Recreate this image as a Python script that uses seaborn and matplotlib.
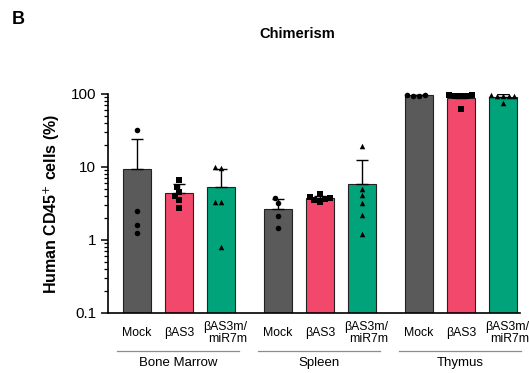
import numpy as np
import pandas as pd
import matplotlib
matplotlib.use("Agg")
import matplotlib.pyplot as plt
import matplotlib.transforms as mtransforms
from matplotlib import font_manager
import seaborn as sns

tissues = ["Bone Marrow", "Spleen", "Thymus"]
treatments = ["Mock", "βAS3", "βAS3m/\nmiR7m"]
colors = ["#5a5a5a", "#f2486b", "#00a37a"]
markers = ["o", "s", "^"]

# individual mice, % human CD45+
bm_mock = [32, 2.5, 1.6, 1.26]
bm_as3 = [6.6, 5.4, 4.6, 4.0, 3.5, 2.7]
bm_mir = [9.9, 9.6, 3.3, 3.3, 0.81]
sp_mock = [3.7, 3.2, 2.14, 1.46]
sp_as3 = [4.2, 3.9, 3.8, 3.6, 3.5, 3.3]
sp_mir = [19.2, 5.0, 4.1, 3.2, 2.2, 1.2]
th_mock = [96, 95, 96, 95]
th_as3 = [96, 94, 95, 93, 96, 62]
th_mir = [96, 94, 95, 93, 95, 76]

groups = {
    ("Bone Marrow", treatments[0]): bm_mock,
    ("Bone Marrow", treatments[1]): bm_as3,
    ("Bone Marrow", treatments[2]): bm_mir,
    ("Spleen", treatments[0]): sp_mock,
    ("Spleen", treatments[1]): sp_as3,
    ("Spleen", treatments[2]): sp_mir,
    ("Thymus", treatments[0]): th_mock,
    ("Thymus", treatments[1]): th_as3,
    ("Thymus", treatments[2]): th_mir,
}

rows = []
for (tis, trt), vals in groups.items():
    for v in vals:
        rows.append({"tissue": tis, "treatment": trt, "value": v})
df = pd.DataFrame(rows)

plt.rcParams["font.family"] = ["Liberation Sans", "DejaVu Sans"]
installed = {f.name for f in font_manager.fontManager.ttflist}
narrow = "Liberation Sans Narrow" in installed

fig = plt.figure(figsize=(5.29, 3.73), dpi=100)
ax = fig.add_axes([0.204, 0.161, 0.779, 0.587])

# arithmetic means: draw bars on a linear axis, then switch to log
sns.barplot(data=df, x="tissue", y="value", hue="treatment", order=tissues,
            hue_order=treatments, palette=colors, saturation=1, errorbar=None,
            width=0.894, gap=0.33, edgecolor="#222222", linewidth=0.8,
            legend=False, ax=ax)
ax.set_yscale("log")

# bar centres, left to right -> tissue x treatment order
bars = sorted(ax.patches, key=lambda p: p.get_x())
keys = [(t, r) for t in tissues for r in treatments]
centers = {k: p.get_x() + p.get_width() / 2 for p, k in zip(bars, keys)}
df["pos"] = [centers[(t, r)] for t, r in zip(df["tissue"], df["treatment"])]

stats = df.groupby(["tissue", "treatment"])["value"].agg(["mean", "std"])
for k in keys:
    m, s = stats.loc[k]
    ax.errorbar([centers[k]], [m], yerr=[[0], [s]], color="black", lw=1.0,
                capsize=4, capthick=1.0, zorder=3)

for trt, mk in zip(treatments, markers):
    sub = df[df["treatment"] == trt]
    sns.swarmplot(data=sub, x="pos", y="value", native_scale=True, orient="x",
                  color="black", marker=mk, size=4, ax=ax, zorder=4,
                  clip_on=False, warn_thresh=1)

ax.set_ylim(0.1, 100)
ax.set_xlim(-0.504, 2.42)
ax.set_yticks([0.1, 1, 10, 100])
ax.set_yticklabels(["0.1", "1", "10", "100"], fontsize=11)
ax.set_xticks([])
ax.set_xlabel("")
ax.set_ylabel("Human CD45$^{+}$ cells (%)", fontsize=11.5, fontweight="bold", labelpad=6)
ax.tick_params(axis="y", which="major", length=5, width=1.1, direction="out")
ax.tick_params(axis="y", which="minor", length=3, width=0.9, direction="out")
for side in ["top", "right"]:
    ax.spines[side].set_visible(False)
for side in ["left", "bottom"]:
    ax.spines[side].set_linewidth(1.2)

trans = mtransforms.blended_transform_factory(ax.transData, ax.transAxes)
for k in keys:
    nm = k[1]
    dx = 0.03 if "\n" in nm else 0
    ax.text(centers[k] + dx, -0.09, nm, transform=trans, ha="center", va="center",
            multialignment="right", fontsize=8.8, linespacing=1.0)

for i, tis in enumerate(tissues):
    left = bars[3 * i].get_x() - 0.04
    right = bars[3 * i + 2].get_x() + bars[3 * i + 2].get_width() + 0.03
    ax.plot([left, right], [-0.174, -0.174], transform=trans, color="#8c8c8c",
            lw=0.9, clip_on=False)
    ax.text((left + right) / 2, -0.228, tis, transform=trans, ha="center",
            va="center", fontsize=9.5)

if narrow:
    fig.text(0.561, 0.91, "Chimerism", ha="center", va="center", fontsize=12.5,
             fontweight="bold", family=["Liberation Sans Narrow", "DejaVu Sans"])
else:
    fig.text(0.561, 0.91, "Chimerism", ha="center", va="center", fontsize=10.5,
             fontweight="bold")
fig.text(0.022, 0.949, "B", ha="left", va="center", fontsize=13, fontweight="bold")

fig.savefig("out.png", dpi=100)
